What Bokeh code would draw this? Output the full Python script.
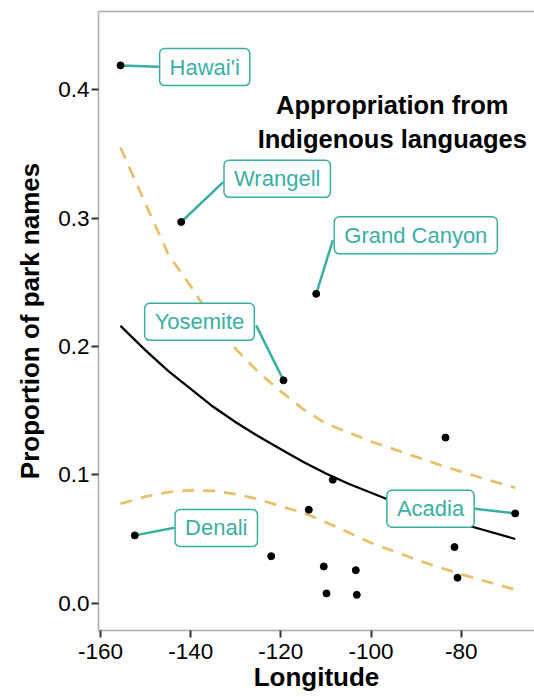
from bokeh.plotting import figure
from bokeh.models import Range1d, FixedTicker, LinearAxis, ColumnDataSource
from bokeh.core.properties import value
from bokeh.embed import file_html
from bokeh.resources import INLINE

# ---- data ----
longitude = [-155.56, -142.10, -112.16, -119.41, -152.39, -68.03, -83.49, -108.48,
             -113.80, -81.49, -122.14, -110.48, -103.38, -80.82, -109.88, -103.16]
proportion = [0.419, 0.297, 0.241, 0.1736, 0.0528, 0.0699, 0.129, 0.0962,
              0.0728, 0.0437, 0.0366, 0.0286, 0.0257, 0.0198, 0.0076, 0.0065]

label_names = ["Hawai'i", "Wrangell", "Grand Canyon", "Yosemite", "Denali", "Acadia"]
label_x = [-136.89, -120.81, -90.07, -138.04, -134.32, -86.81]
label_y = [0.4177, 0.3306, 0.2866, 0.2192, 0.0586, 0.0736]
leader_end_x = [-147.07, -132.79, -108.48, -125.47, -143.59, -76.99]
leader_end_y = [0.4179, 0.3281, 0.2827, 0.2164, 0.0588, 0.0736]

fit_longitude = [-155.56, -150, -145, -140, -135, -130, -125, -120, -115, -110,
                 -105, -100, -95, -90, -85, -80, -75, -70, -68.03]
fit_prop = [0.216, 0.197, 0.181, 0.167, 0.153, 0.141, 0.130, 0.120, 0.110, 0.101,
            0.093, 0.086, 0.079, 0.073, 0.067, 0.062, 0.057, 0.052, 0.050]
fit_upper = [0.355, 0.311, 0.272, 0.247, 0.220, 0.198, 0.180, 0.165, 0.151, 0.140,
             0.133, 0.126, 0.120, 0.114, 0.108, 0.1025, 0.097, 0.092, 0.090]
fit_lower = [0.0775, 0.083, 0.0865, 0.088, 0.0875, 0.085, 0.081, 0.0755, 0.0705, 0.063,
             0.055, 0.047, 0.0405, 0.034, 0.028, 0.0225, 0.0175, 0.0125, 0.0105]

x_ticks = [-160, -140, -120, -100, -80]
x_tick_labels = ["-160", "-140", "-120", "-100", "-80"]
y_ticks = [0.0, 0.1, 0.2, 0.3, 0.4]
y_tick_labels = ["0.0", "0.1", "0.2", "0.3", "0.4"]

title_lines = ["Appropriation from", "Indigenous languages"]
title_x = [-95.3, -95.3]
title_y = [0.3880, 0.3615]

x_title = "Longitude"
y_title = "Proportion of park names"

# ---- styles ----
TEAL = "#3BAEA3"
GOLD = "#E8BF6A"
AXIS_GREY = "#ABABAB"
FONT = "Liberation Sans"

p = figure(width=534, height=697, output_backend="svg", toolbar_location=None,
           x_range=Range1d(-160.44, -63.75), y_range=Range1d(-0.0213, 0.4610),
           min_border_left=98, min_border_right=0, min_border_top=11, min_border_bottom=67)
p.outline_line_color = None
p.xgrid.visible = False
p.ygrid.visible = False
p.background_fill_color = "white"
p.border_fill_color = "white"

for ax, ticks, labels in ((p.xaxis[0], x_ticks, x_tick_labels), (p.yaxis[0], y_ticks, y_tick_labels)):
    ax.ticker = FixedTicker(ticks=ticks)
    ax.major_label_overrides = {t: l for t, l in zip(ticks, labels)}
    ax.minor_tick_line_color = None
    ax.major_tick_in = 0
    ax.major_tick_out = 7
    ax.major_tick_line_color = "#333333"
    ax.major_tick_line_width = 2
    ax.axis_line_color = AXIS_GREY
    ax.axis_line_width = 1.5
    ax.major_label_text_font = FONT
    ax.major_label_text_font_size = "22.5px"
    ax.major_label_text_color = "black"
    ax.axis_label_text_font = FONT
    ax.axis_label_text_font_size = "26px"
    ax.axis_label_text_font_style = "bold"
    ax.axis_label_text_color = "black"

p.xaxis.axis_label = x_title
p.xaxis.major_label_standoff = 6
p.xaxis.axis_label_standoff = 0
p.yaxis.axis_label = y_title
p.yaxis.major_label_standoff = 2
p.yaxis.axis_label_standoff = 10

top = LinearAxis(ticker=FixedTicker(ticks=[]), axis_line_color=AXIS_GREY, axis_line_width=1.5,
                 major_tick_out=0, major_tick_in=0, minor_tick_out=0, minor_tick_in=0,
                 major_label_standoff=0, major_label_text_font_size="0px")
p.add_layout(top, "above")

# confidence band and fit
p.line(fit_longitude, fit_upper, line_color=GOLD, line_width=2.7, line_dash="12 9")
p.line(fit_longitude, fit_lower, line_color=GOLD, line_width=2.7, line_dash="12 9")
p.line(fit_longitude, fit_prop, line_color="black", line_width=2.3)

# leaders
n_lab = len(label_names)
p.segment(x0=longitude[:n_lab], y0=proportion[:n_lab], x1=leader_end_x, y1=leader_end_y,
          line_color=TEAL, line_width=2.5)

# points
p.scatter(longitude, proportion, size=7, color="black")

# labels
src = ColumnDataSource(dict(x=label_x, y=label_y, text=label_names))
p.text(x="x", y="y", text="text", source=src,
       text_font=value(FONT), text_font_size="22px", text_color=TEAL,
       text_align="center", text_baseline="middle",
       background_fill_color="white", border_line_color=TEAL, border_line_width=1.5,
       padding=(10, 6), border_radius=5)

# title inside the panel
p.text(x=title_x, y=title_y, text=title_lines, text_font=value(FONT),
       text_font_size="25.5px", text_font_style="bold", text_color="black",
       text_align="center", text_baseline="alphabetic")

open("out.html", "w").write(file_html(p, INLINE))
